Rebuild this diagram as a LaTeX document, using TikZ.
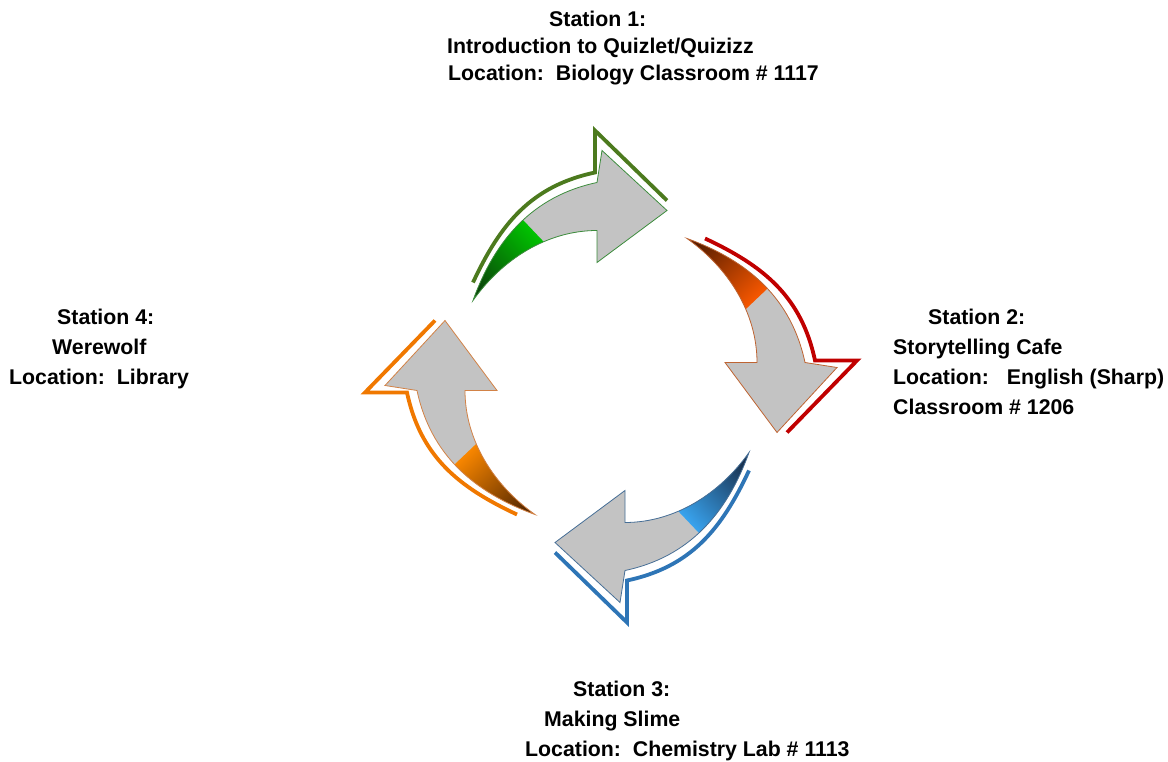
\documentclass[tikz,border=0pt]{standalone}
\usepackage{fontspec}
\setmainfont{Liberation Sans}
\definecolor{arrowgray}{RGB}{195,195,195}
\definecolor{gOut}{RGB}{76,122,30}
\definecolor{gDark}{RGB}{10,70,10}
\definecolor{gBright}{RGB}{0,200,0}
\definecolor{gBorder}{RGB}{60,140,60}
\definecolor{rOut}{RGB}{192,0,0}
\definecolor{rDark}{RGB}{90,30,0}
\definecolor{rBright}{RGB}{255,90,0}
\definecolor{rBorder}{RGB}{190,100,50}
\definecolor{bOut}{RGB}{46,117,182}
\definecolor{bDark}{RGB}{25,50,80}
\definecolor{bBright}{RGB}{58,168,245}
\definecolor{bBorder}{RGB}{70,110,150}
\definecolor{oOut}{RGB}{240,120,0}
\definecolor{oDark}{RGB}{90,42,0}
\definecolor{oBright}{RGB}{255,138,0}
\definecolor{oBorder}{RGB}{210,130,70}
\tikzset{
  lbl/.style={anchor=base west, inner sep=0pt, font=\fontsize{21.3}{24}\selectfont\bfseries},
  rimline/.style={line width=3.8pt, line join=miter},
  bodyline/.style={line width=0.8pt, line join=miter}
}
\newcommand\arrowbody{(-138,76) .. controls (-116,137) and (-78,180.5) .. (-14,194) -- (-9,226) -- (56,166) -- (-14,114) -- (-14,146) .. controls (-64,146) and (-109,117) .. cycle}
\newcommand\stationarrow[5]{%
  \pgfmathsetmacro\shadeang{-46.5+#1}%
  \begin{scope}[shift={(611,384.5)}, rotate=#1]
    \fill[arrowgray] \arrowbody;
    \begin{scope}
      \clip \arrowbody;
      \clip (-145,216.5) -- (-12,76.5) -- (-60,20) -- (-200,20) -- (-200,216.5) -- cycle;
      \shade[top color=#4, bottom color=#3, shading angle=\shadeang] (-142,72) rectangle (-64,162);
    \end{scope}
    \draw[bodyline, draw=#5] \arrowbody;
    \draw[rimline, draw=#2] (-138,94) .. controls (-110.5,153) and (-79.6,190.5) .. (-16,204) -- (-16,246) -- (56,176);
  \end{scope}}
\begin{document}
\begin{tikzpicture}[x=1pt, y=1pt]
  \useasboundingbox (0,0) rectangle (1168,761);
  \stationarrow{0}{gOut}{gDark}{gBright}{gBorder}
  \stationarrow{-90}{rOut}{rDark}{rBright}{rBorder}
  \stationarrow{-180}{bOut}{bDark}{bBright}{bBorder}
  \stationarrow{-270}{oOut}{oDark}{oBright}{oBorder}
  % Station 1
  \node[lbl] (s1a) at (549,734) {Station 1:};
  \node[lbl] (s1b) at (447,707) {Introduction to Quizlet/Quizizz};
  \node[lbl] (s1c) at (448,680) {Location:\ \ Biology Classroom \# 1117};
  % Station 2
  \node[lbl] (s2a) at (928,436) {Station 2:};
  \node[lbl] (s2b) at (893,406) {Storytelling Cafe};
  \node[lbl] (s2c) at (893,376) {Location:\ \ \ English (Sharp)};
  \node[lbl] (s2d) at (893,346) {Classroom \# 1206};
  % Station 3
  \node[lbl] (s3a) at (573,65) {Station 3:};
  \node[lbl] (s3b) at (544,35) {Making Slime};
  \node[lbl] (s3c) at (525,5) {Location:\ \ Chemistry Lab \# 1113};
  % Station 4
  \node[lbl] (s4a) at (57,436) {Station 4:};
  \node[lbl] (s4b) at (52,406) {Werewolf};
  \node[lbl] (s4c) at (9,376) {Location:\ \ Library};
\end{tikzpicture}
\end{document}
